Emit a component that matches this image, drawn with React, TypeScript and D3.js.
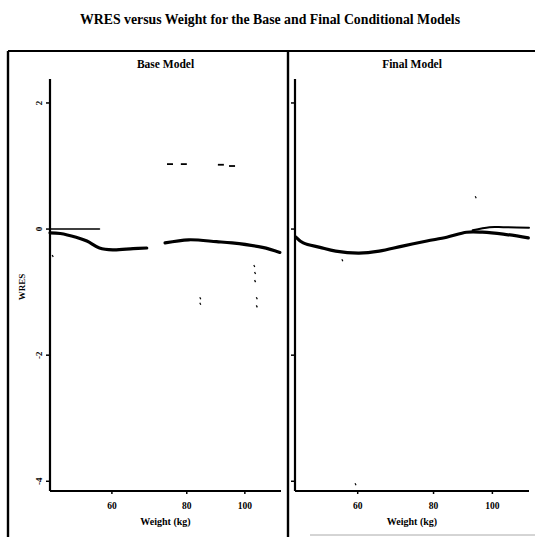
import React from "react";
import * as d3 from "d3";

const TITLE = "WRES versus Weight for the Base and Final Conditional Models";
const panelTitles = ["Base Model", "Final Model"];
const xLabel = "Weight (kg)";
const yLabel = "WRES";

const xTicks = [60, 80, 100];
const yTicks = [2, 0, -2, -4];
const yTickLabels = ["2", "0", "-2", "-4"];

// Base model smooth (two pieces, gap between)
const baseSegAW = [47.3, 49.2, 52.3, 54.5, 57.2, 60.2, 65.1, 68.6];
const baseSegAR = [-0.06, -0.07, -0.13, -0.19, -0.3, -0.33, -0.31, -0.3];
const baseSegBW = [73.6, 80.6, 89.7, 95.2, 107.0, 114.4];
const baseSegBR = [-0.22, -0.17, -0.2, -0.22, -0.29, -0.37];
const baseRefW = [47.3, 57.2];
const baseRefR = [0, 0];

// Final model smooth and upper short line
const finalW = [47.5, 48.8, 52.0, 55.2, 60.3, 65.1, 71.1, 78.0, 84.1, 90.7, 96.3, 104.2, 114.6];
const finalR = [-0.13, -0.22, -0.29, -0.35, -0.38, -0.35, -0.27, -0.19, -0.13, -0.05, -0.05, -0.08, -0.14];
const finalUpW = [92.8, 98.9, 104.2, 114.9];
const finalUpR = [-0.02, 0.03, 0.03, 0.02];

// scattered residual marks (faded points)
const baseDashW = [75.0, 79.1, 91.2, 95.2];
const baseDashR = [1.03, 1.03, 1.02, 1.0];
const baseDotW = [47.7, 84.1, 84.1, 103.5, 103.8, 103.8, 104.5, 104.5];
const baseDotR = [-0.41, -1.08, -1.17, -0.57, -0.68, -0.81, -1.08, -1.21];
const finalDotW = [56.5, 93.7, 59.4];
const finalDotR = [-0.48, 0.52, -4.03];

const FONT = "'Liberation Serif', 'Times New Roman', serif";

export default function App() {
  const y = d3.scaleLinear().domain([-4.17, 2.38]).range([492, 79]);
  const xL = d3.scaleLog().domain([47.3, 114.9]).range([50, 281]);
  const xR = d3.scaleLog().domain([47.3, 114.9]).range([295, 529]);
  const xBottom = 491;

  const mkLine = (xs: any) =>
    d3
      .line<[number, number]>()
      .x((d) => xs(d[0]))
      .y((d) => y(d[1]))
      .curve(d3.curveCatmullRom.alpha(0.5));
  const zip = (a: number[], b: number[]) => a.map((v, i) => [v, b[i]] as [number, number]);

  const panels = [
    {
      x: xL,
      title: panelTitles[0],
      showYLabels: true,
      lines: [
        { d: zip(baseSegAW, baseSegAR), w: 3.2 },
        { d: zip(baseSegBW, baseSegBR), w: 3.2 },
        { d: zip(baseRefW, baseRefR), w: 1.6 },
      ],
      dashes: zip(baseDashW, baseDashR),
      dots: zip(baseDotW, baseDotR),
    },
    {
      x: xR,
      title: panelTitles[1],
      showYLabels: false,
      lines: [
        { d: zip(finalW, finalR), w: 3.2 },
        { d: zip(finalUpW, finalUpR), w: 2 },
      ],
      dashes: [] as [number, number][],
      dots: zip(finalDotW, finalDotR),
    },
  ];

  return (
    <svg
      width={535}
      height={537}
      style={{ position: "absolute", left: 0, top: 0, background: "#fff" }}
      fontFamily={FONT}
    >
      <rect x={0} y={0} width={535} height={537} fill="#fff" />
      <text x={270} y={24} textAnchor="middle" fontSize={13.8} fontWeight="bold" fill="#000">
        {TITLE}
      </text>
      {/* outer frame */}
      <line x1={8} y1={51} x2={535} y2={51} stroke="#000" strokeWidth={2} />
      <line x1={8} y1={51} x2={8} y2={537} stroke="#000" strokeWidth={2.4} />
      <line x1={288} y1={51} x2={288} y2={537} stroke="#000" strokeWidth={2.4} />
      <line x1={310} y1={535} x2={535} y2={535} stroke="#aaa" strokeWidth={1} />
      <text
        transform={`translate(25,${287}) rotate(-90)`}
        textAnchor="middle"
        fontSize={9}
        fontWeight="bold"
        fill="#000"
      >
        {yLabel}
      </text>
      {panels.map((p, pi) => {
        const [x0, x1] = p.x.range();
        const cx = (x0 + x1) / 2;
        return (
          <g key={pi}>
            <text x={cx} y={68} textAnchor="middle" fontSize={11.5} fontWeight="bold" fill="#000">
              {p.title}
            </text>
            {/* axes */}
            <line x1={x0} y1={y.range()[1]} x2={x0} y2={xBottom} stroke="#000" strokeWidth={2.2} />
            <line x1={x0} y1={xBottom} x2={x1} y2={xBottom} stroke="#000" strokeWidth={2.2} />
            {yTicks.map((t, i) => (
              <g key={t}>
                <line x1={x0 - 4} y1={y(t)} x2={x0} y2={y(t)} stroke="#000" strokeWidth={1.5} />
                {p.showYLabels && (
                  <text
                    transform={`translate(${x0 - 8},${y(t)}) rotate(-90)`}
                    textAnchor="middle"
                    fontSize={9}
                    fontWeight="bold"
                    fill="#000"
                  >
                    {yTickLabels[i]}
                  </text>
                )}
              </g>
            ))}
            {xTicks.map((t) => (
              <g key={t}>
                <line x1={p.x(t)} y1={xBottom} x2={p.x(t)} y2={xBottom + 3} stroke="#000" strokeWidth={1.5} />
                <text x={p.x(t)} y={xBottom + 18} textAnchor="middle" fontSize={9.5} fontWeight="bold" fill="#000">
                  {t}
                </text>
              </g>
            ))}
            <text x={cx} y={xBottom + 34} textAnchor="middle" fontSize={10} fontWeight="bold" fill="#000">
              {xLabel}
            </text>
            {p.lines.map((l, li) => (
              <path
                key={li}
                d={mkLine(p.x)(l.d) || ""}
                fill="none"
                stroke="#000"
                strokeWidth={l.w}
                strokeLinecap="round"
              />
            ))}
            {p.dashes.map((d, di) => (
              <line
                key={di}
                x1={p.x(d[0]) - 3}
                x2={p.x(d[0]) + 3}
                y1={y(d[1])}
                y2={y(d[1])}
                stroke="#000"
                strokeWidth={1.8}
              />
            ))}
            {p.dots.map((d, di) => (
              <line
                key={di}
                x1={p.x(d[0])}
                x2={p.x(d[0]) + 1}
                y1={y(d[1])}
                y2={y(d[1]) + 2}
                stroke="#000"
                strokeWidth={1.2}
              />
            ))}
          </g>
        );
      })}
    </svg>
  );
}
